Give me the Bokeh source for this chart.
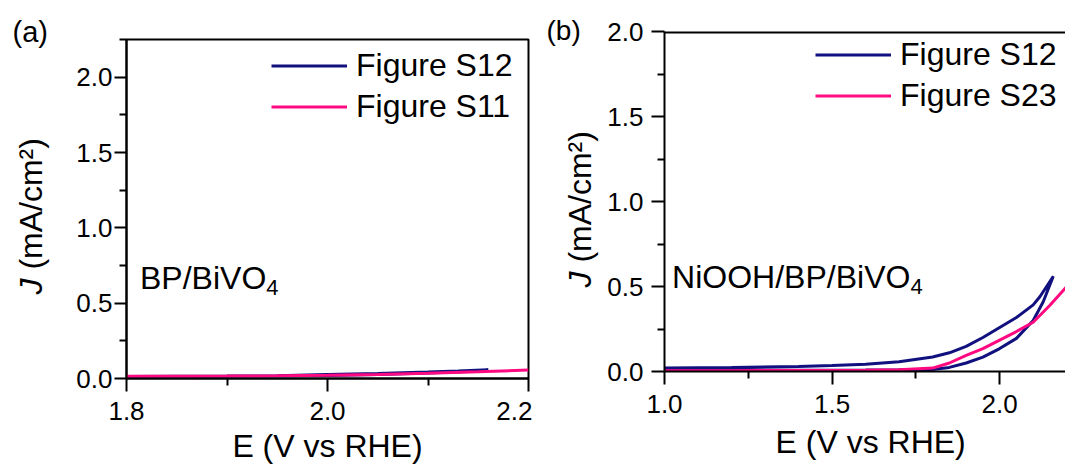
import math
from jinja2 import Template
from bokeh.plotting import figure
from bokeh.models import Range1d, FixedTicker, Label, Legend, LegendItem, NumeralTickFormatter, Span
from bokeh.embed import file_html
from bokeh.resources import INLINE

FONT = "Liberation Sans"
NAVY = "#10107E"
PINK = "#FF0A80"

# ---------------- data: panel (a) BP/BiVO4 ----------------
a_s12_x = [1.80, 1.90, 1.95, 1.97, 2.00, 2.05, 2.10, 2.13, 2.16, 2.14, 2.10, 2.05, 2.00, 1.90, 1.80]
a_s12_y = [0.014, 0.016, 0.018, 0.021, 0.026, 0.034, 0.043, 0.050, 0.058, 0.047, 0.036, 0.027, 0.020, 0.015, 0.013]
a_s11_x = [1.80, 1.90, 1.95, 2.00, 2.05, 2.10, 2.15, 2.20]
a_s11_y = [0.015, 0.016, 0.018, 0.021, 0.027, 0.035, 0.045, 0.056]

# ---------------- data: panel (b) NiOOH/BP/BiVO4 ----------------
b_s12_x = [1.00, 1.20, 1.40, 1.60, 1.70, 1.80, 1.85, 1.90, 1.95, 2.00, 2.05, 2.10, 2.13, 2.16,
           2.145, 2.12, 2.10, 2.05, 2.00, 1.95, 1.90, 1.85, 1.80, 1.70, 1.60, 1.50, 1.40, 1.20, 1.00]
b_s12_y = [0.008, 0.008, 0.008, 0.009, 0.010, 0.012, 0.024, 0.050, 0.085, 0.135, 0.195, 0.300, 0.410, 0.560,
           0.515, 0.440, 0.392, 0.318, 0.259, 0.200, 0.148, 0.110, 0.085, 0.058, 0.042, 0.035, 0.030, 0.024, 0.020]
b_s23_x = [1.00, 1.20, 1.40, 1.60, 1.70, 1.80, 1.85, 1.90, 1.95, 2.00, 2.05, 2.10, 2.15, 2.20]
b_s23_y = [0.005, 0.005, 0.006, 0.007, 0.010, 0.020, 0.050, 0.095, 0.135, 0.185, 0.235, 0.290, 0.390, 0.500]

# ---------------- ticks ----------------
a_xticks = [1.8, 2.0, 2.2]
a_xminor = [1.9, 2.1]
a_xlabels = ["1.8", "2.0", "2.2"]
a_yticks = [0.0, 0.5, 1.0, 1.5, 2.0]
a_yminor = [0.25, 0.75, 1.25, 1.75, 2.25]
a_ylabels = ["0.0", "0.5", "1.0", "1.5", "2.0"]

b_xticks = [1.0, 1.5, 2.0]
b_xminor = [1.25, 1.75]
b_xlabels = ["1.0", "1.5", "2.0"]
b_yticks = [0.0, 0.5, 1.0, 1.5, 2.0]
b_yminor = [0.25, 0.75, 1.25, 1.75]
b_ylabels = ["0.0", "0.5", "1.0", "1.5", "2.0"]

X_TITLE = "E (V vs RHE)"
Y_SYMBOL = "J"
Y_UNIT = "(mA/cm²)"

# Two independent roots laid side by side (a row layout would force both frames to share borders)
PAGE = Template("""<!DOCTYPE html>
<html lang="en">
<head>
<meta charset="utf-8">
<title>{{ title }}</title>
<style>html, body { margin: 0; padding: 0; } .pair { display: flex; flex-direction: row; }</style>
{{ bokeh_css }}
{{ bokeh_js }}
</head>
<body>
<div class="pair">
{{ plot_div }}
</div>
{{ plot_script }}
</body>
</html>
""")


def side_text(p, side, x, y, xo, yo, text, size, align="left", angle=0.0, style="normal"):
    """Text outside the frame, kept in a side panel so the frame clip does not hide it."""
    p.add_layout(Label(x=x, y=y, x_offset=xo, y_offset=yo, text=text, angle=angle,
                       text_font=FONT, text_font_size=f"{size}px", text_font_style=style,
                       text_align=align, text_baseline="middle", text_color="black"), side)


def style_axis(ax, ticks, minor, labels, standoff, tick_len=13):
    ax.ticker = FixedTicker(ticks=ticks, minor_ticks=minor)
    ax.formatter = NumeralTickFormatter(format="0.0")
    ax.major_label_overrides = {t: l for t, l in zip(ticks, labels)}
    ax.axis_line_width = 2
    ax.axis_line_color = "black"
    ax.major_tick_line_width = 2
    ax.minor_tick_line_width = 2
    ax.major_tick_line_color = "black"
    ax.minor_tick_line_color = "black"
    ax.major_tick_in = 0
    ax.major_tick_out = tick_len
    ax.minor_tick_in = 0
    ax.minor_tick_out = 7
    ax.major_label_text_font = FONT
    ax.major_label_text_font_size = "26px"
    ax.major_label_text_color = "black"
    ax.major_label_standoff = standoff


def ylabel(p, x0, xo, yo):
    size = 32
    side_text(p, "left", x0, 0, xo, yo, Y_SYMBOL, size, angle=math.pi / 2, style="italic")
    side_text(p, "left", x0, 0, xo, yo + 0.778 * size, Y_UNIT, size, angle=math.pi / 2)


def make_panel(width, xr, yr, bl, br, bt, bb, outline):
    p = figure(width=width, height=464, x_range=Range1d(*xr), y_range=Range1d(*yr),
               toolbar_location=None, output_backend="svg",
               min_border_left=bl, min_border_right=br, min_border_top=bt, min_border_bottom=bb)
    p.xgrid.visible = False
    p.ygrid.visible = False
    p.background_fill_color = "white"
    p.border_fill_color = "white"
    if outline:
        p.outline_line_color = "black"
        p.outline_line_width = 2
        p.outline_line_alpha = 1
    else:
        p.outline_line_color = None
    return p


def add_legend(p, r1, r2, l1, l2, loc):
    leg = Legend(items=[LegendItem(label=l1, renderers=[r1]), LegendItem(label=l2, renderers=[r2])],
                 location=loc, orientation="vertical", glyph_width=76, glyph_height=41,
                 label_height=41, spacing=0, padding=0, margin=0, label_standoff=9,
                 label_text_font=FONT, label_text_font_size="32px", label_text_color="black",
                 background_fill_alpha=0, border_line_alpha=0)
    p.add_layout(leg)


def inner_text(p, x, y, xo, yo, text, size):
    p.add_layout(Label(x=x, y=y, x_offset=xo, y_offset=yo, text=text, text_font=FONT,
                       text_font_size=f"{size}px", text_baseline="alphabetic", text_color="black"))


# ---------------- panel (a) ----------------
pa = make_panel(532, (1.8, 2.2), (0.0, 2.25), 126, 4, 39, 86, True)
style_axis(pa.xaxis[0], a_xticks, a_xminor, a_xlabels, 10)
style_axis(pa.yaxis[0], a_yticks, a_yminor, a_ylabels, 2, tick_len=12)
ra1 = pa.line(a_s12_x, a_s12_y, line_color=NAVY, line_width=3)
ra2 = pa.line(a_s11_x, a_s11_y, line_color=PINK, line_width=3)
add_legend(pa, ra1, ra2, "Figure S12", "Figure S11", (145, 251))
inner_text(pa, 1.8, 0, 13.5, 101, "BP/BiVO", 32)
inner_text(pa, 1.8, 0, 13.5 + 126.3, 91, "4", 22)
side_text(pa, "above", 1.8, 2.25, -114, 7.6, "(a)", 29)
side_text(pa, "below", 2.0, 0, 0, -67.5, X_TITLE, 32, align="center")
ylabel(pa, 1.8, -95.2, 84)

# ---------------- panel (b) ----------------
B_X_END = 1.0 + 402 / 336
pb = make_panel(533, (1.0, B_X_END), (0.0, 2.0), 131, 0, 31, 93, False)
style_axis(pb.xaxis[0], b_xticks, b_xminor, b_xlabels, 10)
style_axis(pb.yaxis[0], b_yticks, b_yminor, b_ylabels, 8)
pb.add_layout(Span(location=2.0, dimension="width", line_color="black", line_width=4))
rb1 = pb.line(b_s12_x, b_s12_y, line_color=NAVY, line_width=3)
rb2 = pb.line(b_s23_x, b_s23_y, line_color=PINK, line_width=3)
add_legend(pb, rb1, rb2, "Figure S12", "Figure S23", (151, 255))
inner_text(pb, 1.0, 0, 7.6, 95, "NiOOH/BP/BiVO", 32)
inner_text(pb, 1.0, 0, 7.6 + 238.3, 85, "4", 22)
side_text(pb, "above", 1.0, 2.0, -118, 1.2, "(b)", 28)
side_text(pb, "below", 1.615, 0, 0, -70.9, X_TITLE, 32, align="center")
ylabel(pb, 1.0, -84.2, 84)

open("out.html", "w").write(file_html((pa, pb), INLINE, title="J-E curves", template=PAGE))
